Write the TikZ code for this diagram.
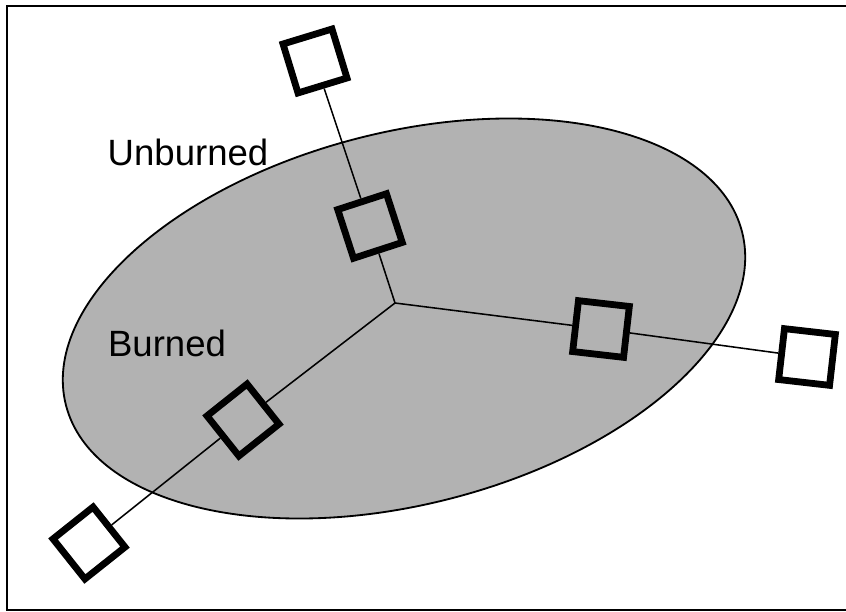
\documentclass[tikz,border=0pt]{standalone}
\usepackage{fontspec}
\setmainfont{Liberation Sans}

\begin{document}
\begin{tikzpicture}[x=0.025cm, y=-0.025cm,
    probe/.style={draw, rectangle, minimum size=1.28cm, inner sep=0pt, line width=0.17cm},
    link/.style={line width=1.1pt},
    label/.style={font=\fontsize{26}{30}\selectfont}]
    \useasboundingbox (0,0) rectangle (846,611);
    \draw[line width=2pt] (7,6) rectangle (870,610);
    % burned region
    \draw[fill=black!30, line width=1.3pt, rotate around={14.4:(404,318.5)}] (404,318.5) ellipse (349 and 186);
    \node[label] (unburned) at (188,152) {Unburned};
    \node[label] (burned) at (167,343) {Burned};
    % junction and the three probe arms
    \coordinate (c) at (395,303);
    \node[probe, rotate=18] (upin) at (370,226) {};
    \node[probe, rotate=17] (upout) at (315,61) {};
    \node[probe, rotate=-6.5] (rin) at (601,329) {};
    \node[probe, rotate=-6.5] (rout) at (807,357) {};
    \node[probe, rotate=38.5] (llin) at (243,420) {};
    \node[probe, rotate=38.5] (llout) at (89,543) {};
    \draw[link] (c) -- (upin);
    \draw[link] (upin) -- (upout);
    \draw[link] (c) -- (rin);
    \draw[link] (rin) -- (rout);
    \draw[link] (c) -- (llin);
    \draw[link] (llin) -- (llout);
\end{tikzpicture}
\end{document}
